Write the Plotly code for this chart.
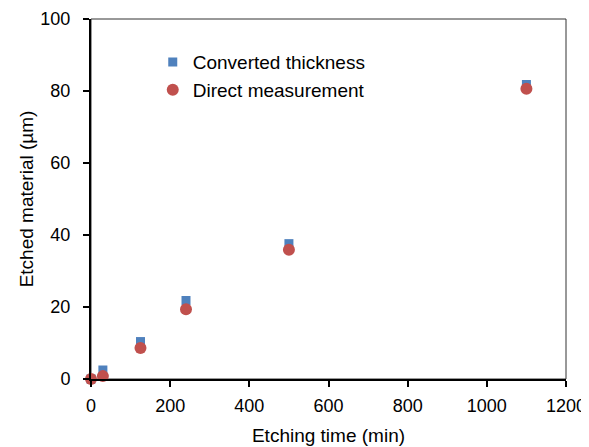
import plotly.graph_objects as go

time_min = [0, 30, 125, 240, 500, 1100]
converted = [0, 2.5, 10.4, 21.8, 37.6, 81.8]
direct = [0, 0.8, 8.6, 19.4, 35.9, 80.6]

x_ticks = [0, 200, 400, 600, 800, 1000, 1200]
y_ticks = [0, 20, 40, 60, 80, 100]

FAMILY = "Liberation Sans, Arial, sans-serif"
FS = 19
TFS = 18

fig = go.Figure()
fig.add_trace(go.Scatter(
    x=time_min, y=converted, mode="markers", name="Converted thickness",
    marker=dict(symbol="square", size=9, color="#4f81bd"), cliponaxis=False))
fig.add_trace(go.Scatter(
    x=time_min, y=direct, mode="markers", name="Direct measurement",
    marker=dict(symbol="circle", size=12, color="#c0504d"), cliponaxis=False))

fig.update_layout(
    width=589, height=447,
    margin=dict(l=83, r=31, t=11, b=76, autoexpand=False),
    paper_bgcolor="white", plot_bgcolor="white",
    font=dict(family=FAMILY, size=FS, color="black"),
    showlegend=True,
    legend=dict(x=0.13, y=0.933, xanchor="left", yanchor="top",
                bgcolor="rgba(0,0,0,0)",
                font=dict(family=FAMILY, size=FS, color="black"),
                itemwidth=30),
    shapes=[dict(type="rect", xref="paper", yref="paper", x0=0, x1=1, y0=0, y1=1,
                 line=dict(color="#333333", width=1), layer="below")],
)
fig.update_xaxes(
    range=[0, 1200], tickvals=x_ticks, showgrid=False, zeroline=False,
    showline=True, linecolor="black", linewidth=2, automargin=False,
    ticks="outside", ticklen=6, tickwidth=1.5, tickcolor="black",
    ticklabelstandoff=3,
    tickfont=dict(family=FAMILY, size=TFS, color="black"),
    title=dict(text="Etching time (min)", standoff=14,
               font=dict(family=FAMILY, size=FS, color="black")),
)
fig.update_yaxes(
    range=[0, 100], tickvals=y_ticks, showgrid=False, zeroline=False,
    showline=True, linecolor="black", linewidth=2, automargin=False,
    ticks="outside", ticklen=6, tickwidth=1.5, tickcolor="black",
    ticklabelstandoff=9,
    tickfont=dict(family=FAMILY, size=TFS, color="black"),
    title=dict(text="Etched material (µm)", standoff=2,
               font=dict(family=FAMILY, size=FS, color="black")),
)

fig.write_html("out.html")
